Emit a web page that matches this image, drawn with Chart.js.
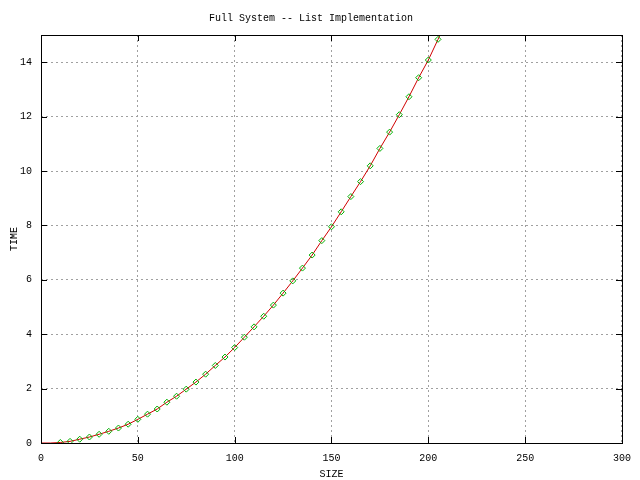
<!DOCTYPE html>
<html>
<head>
<meta charset="utf-8">
<script src="https://cdn.jsdelivr.net/npm/chart.js@4"></script>
<style>
  html, body { margin: 0; padding: 0; background: #fff; }
  #wrap { width: 640px; height: 480px; }
</style>
</head>
<body>
<div id="wrap"><canvas id="chart" width="640" height="480"></canvas></div>
<script>
// measured points (SIZE vs TIME)
const sizes = [10, 15, 20, 25, 30, 35, 40, 45, 50, 55, 60, 65, 70, 75, 80, 85, 90, 95, 100, 105,
               110, 115, 120, 125, 130, 135, 140, 145, 150, 155, 160, 165, 170, 175, 180, 185, 190, 195, 200, 205];
const times = [0.02, 0.06, 0.14, 0.22, 0.32, 0.43, 0.55, 0.69, 0.87, 1.06, 1.25, 1.50, 1.72, 1.98, 2.24, 2.53, 2.85, 3.16, 3.51, 3.89,
               4.27, 4.66, 5.07, 5.51, 5.96, 6.43, 6.91, 7.44, 7.95, 8.50, 9.06, 9.61, 10.19, 10.83, 11.43, 12.07, 12.73, 13.43, 14.08, 14.84];

// red line runs from the origin and past the last point
const lineSizes = [0, 5, ...sizes, 210];
const lineTimes = [0, 0, ...times, 15.6];

const xTicks = [0, 50, 100, 150, 200, 250, 300];
const yTicks = [0, 2, 4, 6, 8, 10, 12, 14];

const MONO = "'Liberation Mono', 'DejaVu Sans Mono', monospace";

// frame + inward tick marks like gnuplot
const framePlugin = {
    id: 'frame',
    afterDraw(chart) {
        const { ctx, chartArea: a, scales } = chart;
        ctx.save();
        ctx.strokeStyle = '#000';
        ctx.lineWidth = 1;
        ctx.setLineDash([]);
        ctx.beginPath();
        xTicks.forEach(v => {
            const px = Math.round(scales.x.getPixelForValue(v)) + 0.5;
            ctx.moveTo(px, a.bottom); ctx.lineTo(px, a.bottom - 6);
            ctx.moveTo(px, a.top); ctx.lineTo(px, a.top + 6);
        });
        yTicks.forEach(v => {
            const py = Math.round(scales.y.getPixelForValue(v)) + 0.5;
            ctx.moveTo(a.left, py); ctx.lineTo(a.left + 6, py);
            ctx.moveTo(a.right, py); ctx.lineTo(a.right - 6, py);
        });
        ctx.stroke();
        ctx.strokeRect(Math.round(a.left) + 0.5, Math.round(a.top) + 0.5,
                       Math.round(a.right - a.left), Math.round(a.bottom - a.top));
        ctx.restore();
    }
};

new Chart(document.getElementById('chart').getContext('2d'), {
    type: 'line',
    data: {
        datasets: [
            {
                data: sizes.map((s, i) => ({ x: s, y: times[i] })),
                showLine: false,
                pointStyle: 'rectRot',
                pointRadius: 3,
                pointBorderWidth: 1,
                pointBorderColor: '#00b000',
                pointBackgroundColor: 'rgba(0,0,0,0)',
                order: 0
            },
            {
                data: lineSizes.map((s, i) => ({ x: s, y: lineTimes[i] })),
                borderColor: '#d00000',
                borderWidth: 1,
                pointRadius: 0,
                tension: 0,
                order: 1
            }
        ]
    },
    options: {
        responsive: false,
        animation: false,
        events: [],
        layout: { padding: { top: 0, right: 18, bottom: 0, left: 0 } },
        plugins: {
            legend: { display: false },
            tooltip: { enabled: false },
            title: {
                display: true,
                text: 'Full System -- List Implementation',
                color: '#000',
                font: { family: MONO, size: 10, weight: 'normal' },
                padding: { top: 12, bottom: 11 }
            }
        },
        scales: {
            x: {
                type: 'linear',
                min: 0,
                max: 300,
                afterBuildTicks: s => { s.ticks = xTicks.map(v => ({ value: v })); },
                afterFit: s => { s.height = 37; },
                grid: { color: '#a0a0a0', drawTicks: false },
                border: { display: false, dash: [2, 3] },
                ticks: { color: '#000', padding: 9, font: { family: MONO, size: 10 }, maxRotation: 0 },
                title: {
                    display: true, text: 'SIZE', color: '#000',
                    font: { family: MONO, size: 10 }, padding: { top: 4, bottom: 0 }
                }
            },
            y: {
                min: 0,
                max: 15,
                afterBuildTicks: s => { s.ticks = yTicks.map(v => ({ value: v })); },
                afterFit: s => { s.width = 41; },
                grid: { color: '#a0a0a0', drawTicks: false },
                border: { display: false, dash: [2, 3] },
                ticks: { color: '#000', padding: 9, font: { family: MONO, size: 10 } },
                title: {
                    display: true, text: 'TIME', color: '#000',
                    font: { family: MONO, size: 10 }, padding: { top: 8, bottom: 0 }
                }
            }
        }
    },
    plugins: [framePlugin]
});
</script>
</body>
</html>
